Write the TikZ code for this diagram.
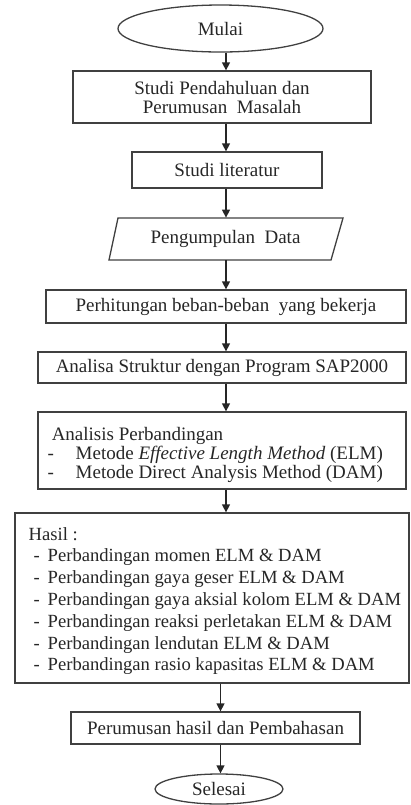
\documentclass[tikz,border=0pt]{standalone}
\usepackage{fontspec}
\setmainfont{Liberation Serif}
\usetikzlibrary{shapes.geometric,arrows.meta,calc}
\begin{document}
\begin{tikzpicture}[x=0.5pt,y=-0.5pt,
  every node/.style={font=\fontsize{9.5}{9.5}\selectfont, text=black!85},
  line/.style={draw=black!75, line width=0.65pt},
  box/.style={line, rectangle, inner sep=0pt, align=center},
  term/.style={line, ellipse, inner sep=0pt},
  arr/.style={draw=black!85, line width=0.65pt, -{Triangle[length=4pt,width=4pt]}},
  txt/.style={anchor=west, align=left, inner sep=0pt},
]
\useasboundingbox (0,0) rectangle (411,805);
\coordinate (ax) at (226,0);
\coordinate (bx) at (220.5,0);

\node[term, minimum width=102.5pt, minimum height=23.5pt] (mulai) at (220.5,28.5) {Mulai};
\node[box, minimum width=149pt, minimum height=26pt] (b1) at (222,97) {Studi Pendahuluan dan\\Perumusan\enspace Masalah};
\node[box, minimum width=95pt, minimum height=18pt] (lit) at (227,170) {Studi literatur};
\node[inner sep=0pt, minimum width=110pt, minimum height=21pt] (data) at (225.5,239) {Pengumpulan\enspace Data};
\draw[line] ($(data.center)+(-116.5,21)$) -- ($(data.center)+(105.5,21)$) -- ($(data.center)+(117.5,-21)$) -- ($(data.center)+(-107.5,-21)$) -- cycle;
\node[box, minimum width=180pt, minimum height=16.5pt] (perh) at (226,306.5) {Perhitungan beban-beban\enspace yang bekerja};
\node[box, minimum width=184pt, minimum height=15.5pt] (anal) at (222,367.5) {Analisa Struktur dengan Program SAP2000};
\node[box, minimum width=184pt, minimum height=38.5pt] (banding) at (222,450.5) {};
\node[txt] (bandtxt) at ($(banding.west)+(10,4)$) {\hspace*{2pt}Analisis Perbandingan\\
\makebox[14pt][l]{-}Metode \textit{Effective Length Method} (ELM)\\
\makebox[14pt][l]{-}Metode Direct Analysis Method (DAM)};
\node[box, minimum width=197pt, minimum height=85pt] (hasil) at (212,598) {};
\node[txt, font=\fontsize{9.3}{10.9}\selectfont] (hasiltxt) at ($(hasil.west)+(14,3)$) {Hasil :\\
\hspace*{2.5pt}\makebox[7pt][l]{-}Perbandingan momen ELM \& DAM\\
\hspace*{2.5pt}\makebox[7pt][l]{-}Perbandingan gaya geser ELM \& DAM\\
\hspace*{2.5pt}\makebox[7pt][l]{-}Perbandingan gaya aksial kolom ELM \& DAM\\
\hspace*{2.5pt}\makebox[7pt][l]{-}Perbandingan reaksi perletakan ELM \& DAM\\
\hspace*{2.5pt}\makebox[7pt][l]{-}Perbandingan lendutan ELM \& DAM\\
\hspace*{2.5pt}\makebox[7pt][l]{-}Perbandingan rasio kapasitas ELM \& DAM};
\node[box, minimum width=144.5pt, minimum height=16pt] (rumus) at (215.5,728) {Perumusan hasil dan Pembahasan};
\node[term, minimum width=64pt, minimum height=15pt] (selesai) at (219,789) {Selesai};

\draw[arr] (mulai.south -| ax) -- (b1.north -| ax);
\draw[arr] (b1.south -| ax) -- (lit.north -| ax);
\draw[arr] (lit.south -| ax) -- (data.north -| ax);
\draw[arr] (data.south -| ax) -- (perh.north -| ax);
\draw[arr] (perh.south -| ax) -- (anal.north -| ax);
\draw[arr] (anal.south -| ax) -- (banding.north -| ax);
\draw[arr] (banding.south -| ax) -- (hasil.north -| ax);
\draw[arr] (hasil.south -| bx) -- (rumus.north -| bx);
\draw[arr] (rumus.south -| bx) -- (selesai.north -| bx);
\end{tikzpicture}
\end{document}
